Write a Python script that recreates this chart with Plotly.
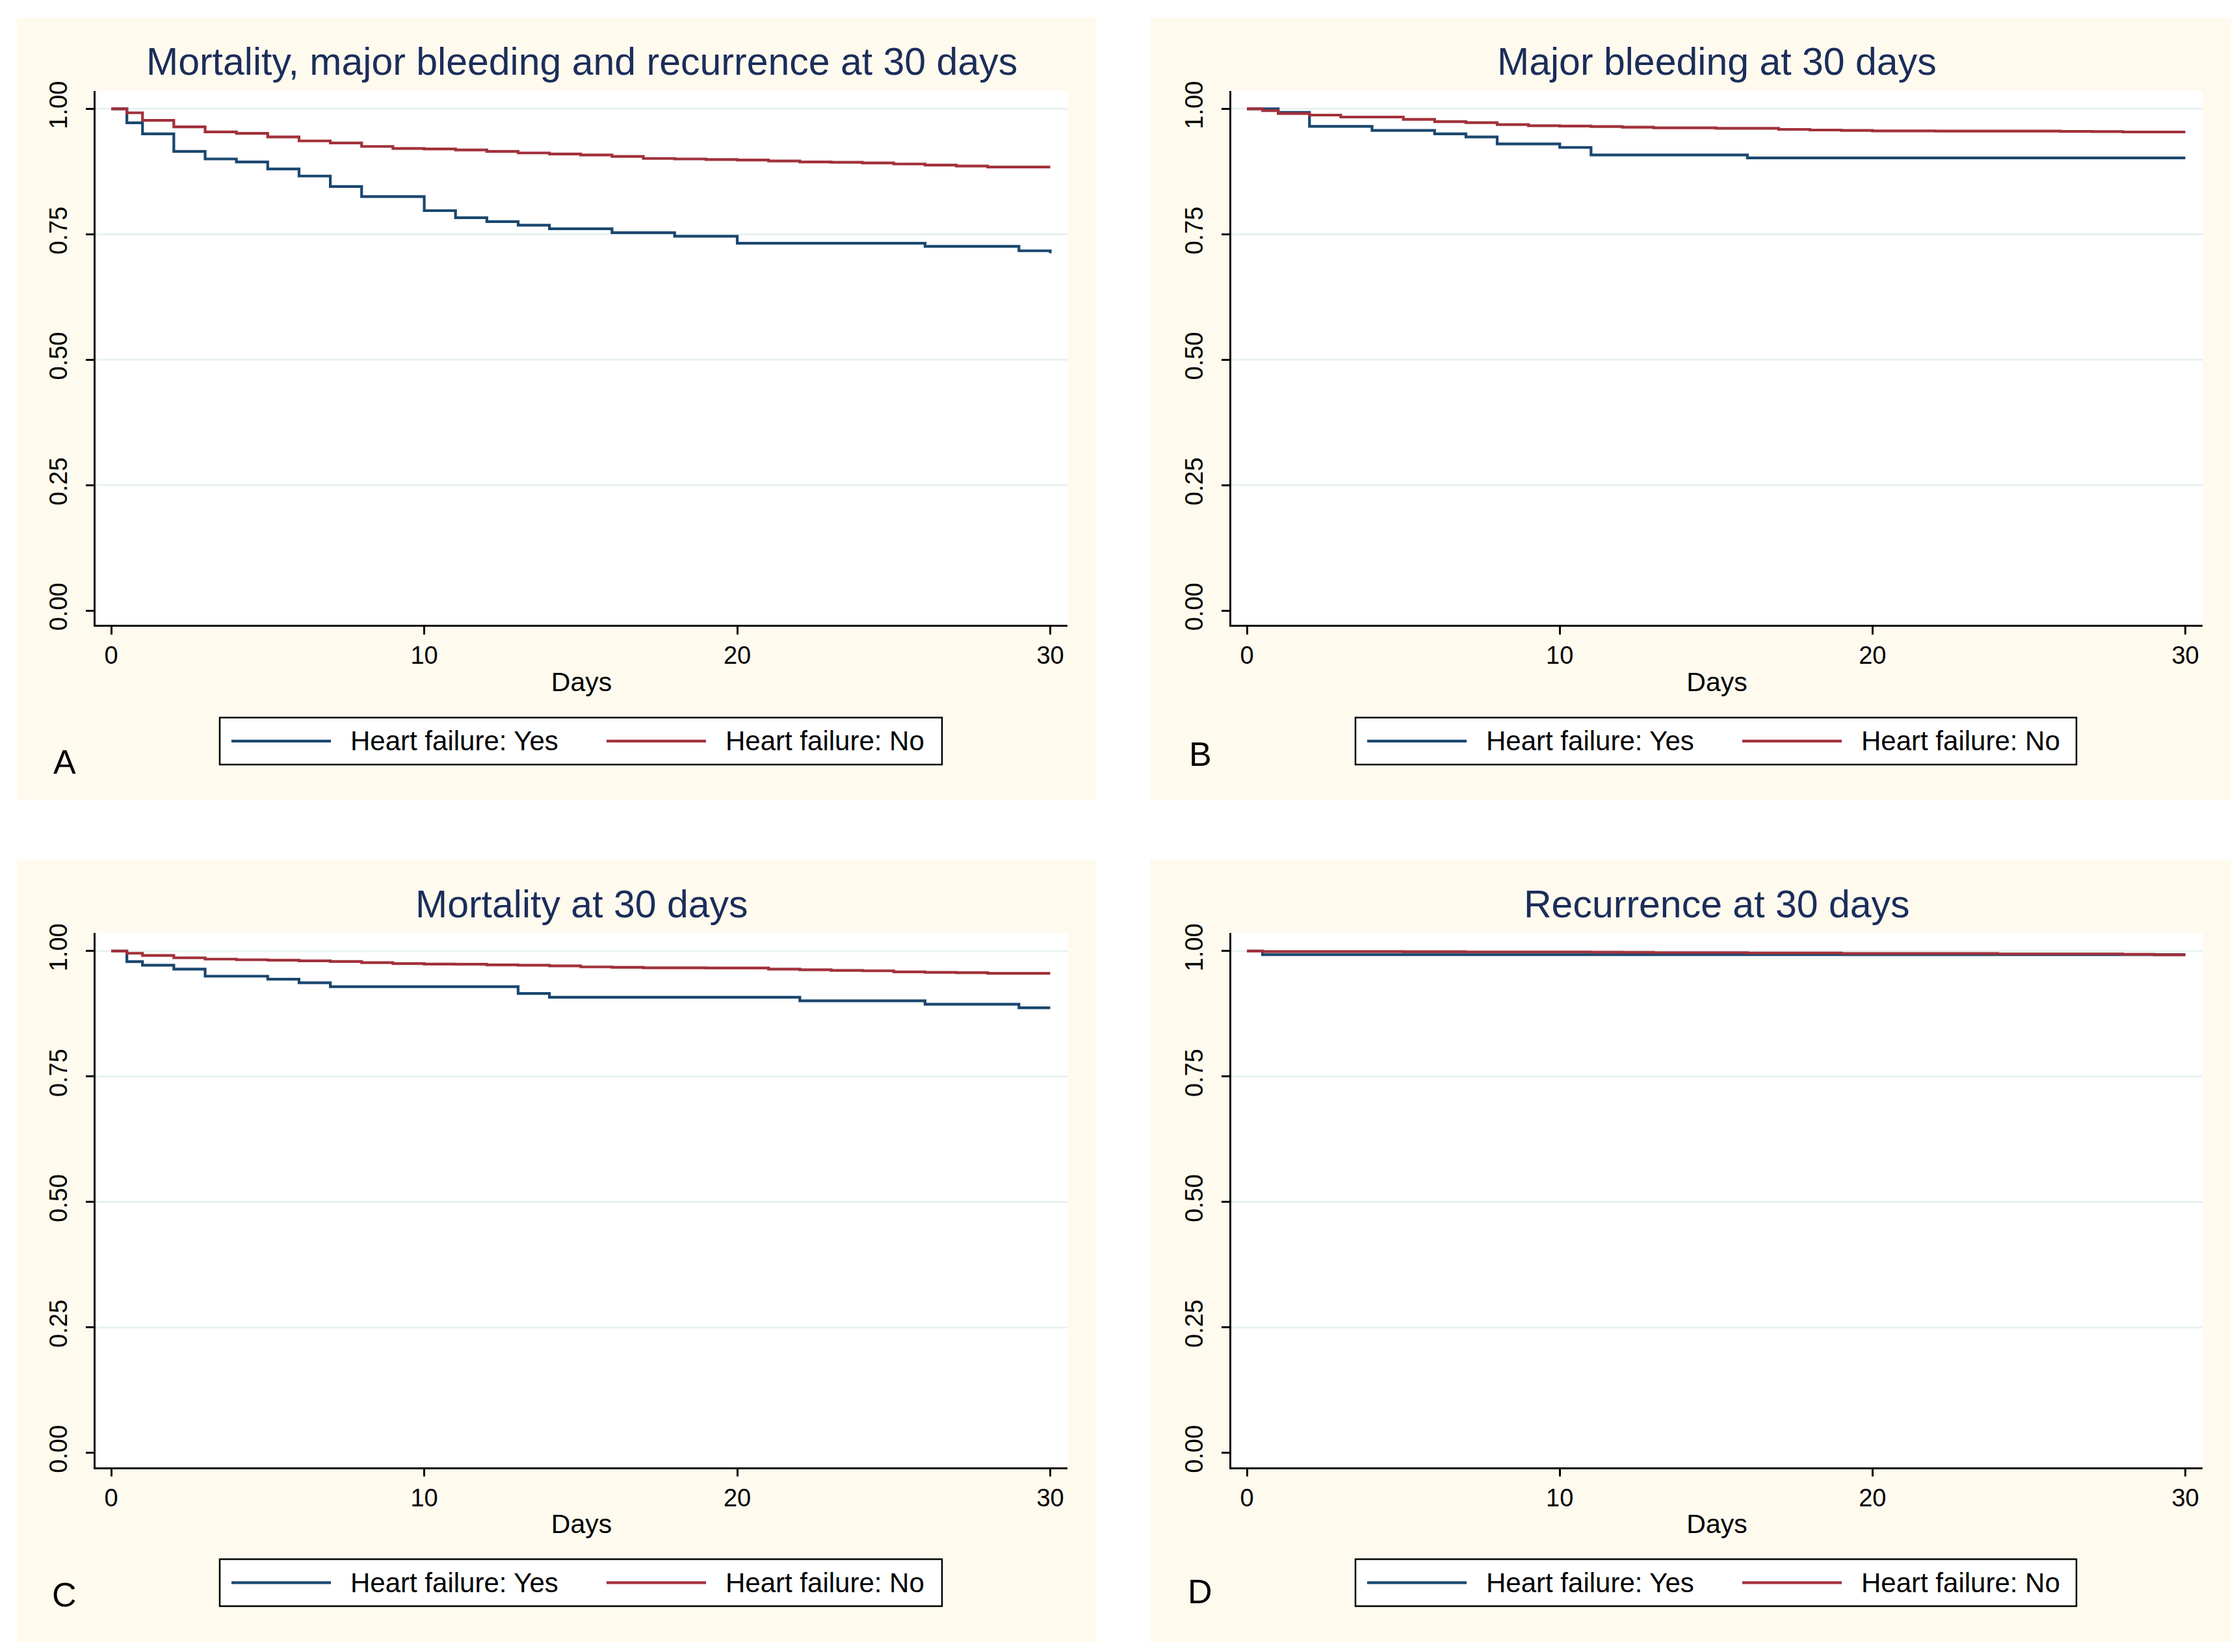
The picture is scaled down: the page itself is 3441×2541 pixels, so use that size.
import plotly.graph_objects as go

# ---------------- data ----------------
panel_titles = [
    "Mortality, major bleeding and recurrence at 30 days",
    "Major bleeding at 30 days",
    "Mortality at 30 days",
    "Recurrence at 30 days",
]
panel_letters = ["A", "B", "C", "D"]
series_names = ["Heart failure: Yes", "Heart failure: No"]
x_ticks = [0, 10, 20, 30]
y_ticks = [0.0, 0.25, 0.5, 0.75, 1.0]
y_tick_labels = ["0.00", "0.25", "0.50", "0.75", "1.00"]
grid_values = [0.25, 0.5, 0.75, 1.0]
x_title = "Days"

# Panel A: mortality, major bleeding and recurrence
a_yes_t = [0, 0.5, 1, 2, 3, 4, 5, 6, 7, 8, 10, 11, 12, 13, 14, 16, 18, 20, 26, 29, 30]
a_yes_s = [1.000, 0.972, 0.950, 0.915, 0.900, 0.894, 0.880, 0.866, 0.845, 0.825,
           0.797, 0.783, 0.775, 0.768, 0.761, 0.753, 0.746, 0.732, 0.726, 0.717, 0.712]
a_no_t = [0, 0.5, 1, 2, 3, 4, 5, 6, 7, 8, 9, 10, 11, 12, 13, 14, 15, 16, 17, 18,
          19, 20, 21, 22, 23, 24, 25, 26, 27, 28, 30]
a_no_s = [1.000, 0.992, 0.977, 0.964, 0.954, 0.951, 0.944, 0.936, 0.932, 0.925,
          0.921, 0.920, 0.918, 0.915, 0.912, 0.910, 0.908, 0.905, 0.901, 0.900,
          0.899, 0.898, 0.896, 0.894, 0.8935, 0.892, 0.890, 0.888, 0.886, 0.884, 0.884]

# Panel B: major bleeding
b_yes_t = [0, 1, 2, 4, 6, 7, 8, 10, 11, 16, 30]
b_yes_s = [1.000, 0.993, 0.965, 0.957, 0.950, 0.944, 0.930, 0.923, 0.908, 0.902, 0.902]
b_no_t = [0, 0.5, 1, 2, 3, 5, 6, 7, 8, 9, 10, 11, 12, 13, 15, 17, 18, 19, 20, 22,
          26, 27, 28, 30]
b_no_s = [1.000, 0.9965, 0.9905, 0.9875, 0.9836, 0.979, 0.9745, 0.9724, 0.9685,
          0.9663, 0.9655, 0.9646, 0.9633, 0.962, 0.961, 0.959, 0.9577, 0.957,
          0.956, 0.9555, 0.955, 0.9547, 0.9538, 0.9538]

# Panel C: mortality
c_yes_t = [0, 0.5, 1, 2, 3, 5, 6, 7, 13, 14, 22, 26, 29, 30]
c_yes_s = [1.000, 0.979, 0.972, 0.964, 0.950, 0.944, 0.937, 0.929, 0.9155, 0.908,
           0.901, 0.894, 0.887, 0.887]
c_no_t = [0, 0.5, 1, 2, 3, 4, 5, 6, 7, 8, 9, 10, 11, 12, 13, 14, 15, 16, 17, 19,
          21, 22, 23, 24, 25, 26, 27, 28, 30]
c_no_s = [1.000, 0.9957, 0.9914, 0.9866, 0.984, 0.9827, 0.9819, 0.9806, 0.9793,
          0.9771, 0.975, 0.9741, 0.9737, 0.9724, 0.972, 0.9707, 0.9685, 0.9676,
          0.9668, 0.9664, 0.9642, 0.9629, 0.9616, 0.9607, 0.9586, 0.9577, 0.9569,
          0.9556, 0.9556]

# Panel D: recurrence
d_yes_t = [0, 0.5, 30]
d_yes_s = [1.000, 0.993, 0.993]
d_no_t = [0, 0.5, 5, 7, 11, 12, 13, 16, 19, 24, 28, 29, 30]
d_no_s = [1.000, 0.9991, 0.9987, 0.9983, 0.9978, 0.9974, 0.997, 0.9961, 0.9953,
          0.9944, 0.9935, 0.9927, 0.9927]

panel_series = [
    ((a_yes_t, a_yes_s), (a_no_t, a_no_s)),
    ((b_yes_t, b_yes_s), (b_no_t, b_no_s)),
    ((c_yes_t, c_yes_s), (c_no_t, c_no_s)),
    ((d_yes_t, d_yes_s), (d_no_t, d_no_s)),
]

# ---------------- styling / layout ----------------
PAGE_W, PAGE_H = 3441, 2541
BODY_MARGIN = 8                      # default page margin around the figure div
W, H = PAGE_W - 2 * BODY_MARGIN, PAGE_H - 2 * BODY_MARGIN
FONT = "Liberation Sans, Arial, Helvetica, sans-serif"
COL_YES = "#1A476F"
COL_NO = "#A1313B"
CREAM = "#FEFAEE"
GRID = "#E8F1F3"
TITLE_COL = "#1B2D5A"


def px_x(v):
    return (v - BODY_MARGIN) / W


def px_y(v):
    return 1 - (v - BODY_MARGIN) / H


# panel geometry in page pixels
cols = [
    dict(cream=(26, 1686), plot=(147, 1642), legend=(338, 1449)),
    dict(cream=(1769, 3432), plot=(1894, 3388), legend=(2085, 3194)),
]
rows = [
    dict(cream=(12, 1227), plot=(126, 955), legend=(1099, 1172)),
    dict(cream=(1320, 2535), plot=(1434, 2263), legend=(2406, 2479)),
]
title_gap = 45
letter_pos = [(99, 1168), (1846, 1156), (99, 2461), (1846, 2456)]

fig = go.Figure()
shapes = []
annotations = []
layout_axes = {}

for i in range(4):
    c = cols[i % 2]
    r = rows[i // 2]
    sfx = "" if i == 0 else str(i + 1)
    xa, ya = "x" + sfx, "y" + sfx

    # cream panel background and white plot region
    shapes.append(dict(type="rect", xref="paper", yref="paper",
                       x0=px_x(c["cream"][0]), x1=px_x(c["cream"][1]),
                       y0=px_y(r["cream"][1]), y1=px_y(r["cream"][0]),
                       fillcolor=CREAM, line=dict(width=0), layer="below"))
    shapes.append(dict(type="rect", xref="paper", yref="paper",
                       x0=px_x(c["plot"][0]), x1=px_x(c["plot"][1]),
                       y0=px_y(r["plot"][1]), y1=px_y(r["plot"][0]),
                       fillcolor="white", line=dict(width=0), layer="below"))

    # gridlines
    for g in grid_values:
        shapes.append(dict(type="line", xref=xa + " domain", yref=ya,
                           x0=0, x1=1, y0=g, y1=g,
                           line=dict(color=GRID, width=3), layer="below"))

    # curves
    for (t, s), name, col in zip(panel_series[i], series_names, [COL_YES, COL_NO]):
        fig.add_trace(go.Scatter(x=t, y=s, mode="lines", name=name,
                                 line=dict(color=col, width=4.2, shape="hv"),
                                 xaxis=xa, yaxis=ya, showlegend=False))

    layout_axes["xaxis" + sfx] = dict(
        domain=[px_x(c["plot"][0]), px_x(c["plot"][1])],
        anchor=ya, range=[-0.5, 30.55], tickmode="array", tickvals=x_ticks,
        ticks="outside", ticklen=12, tickwidth=2.5, tickcolor="black",
        showline=True, linecolor="black", linewidth=2.8, mirror=False,
        showgrid=False, zeroline=False, fixedrange=True,
        tickfont=dict(family=FONT, size=38, color="black"),
        ticklabelstandoff=0,
        title=dict(text=x_title, font=dict(family=FONT, size=41, color="black"),
                   standoff=6),
    )
    layout_axes["yaxis" + sfx] = dict(
        domain=[px_y(r["plot"][1]), px_y(r["plot"][0])],
        anchor=xa, range=[-0.0285, 1.0356], tickmode="array", tickvals=y_ticks,
        ticktext=y_tick_labels, tickangle=-90,
        ticks="outside", ticklen=12, tickwidth=2.5, tickcolor="black",
        showline=True, linecolor="black", linewidth=2.8,
        showgrid=False, zeroline=False, fixedrange=True,
        tickfont=dict(family=FONT, size=38, color="black"),
        ticklabelstandoff=14,
    )

    # panel title
    annotations.append(dict(text=panel_titles[i], xref="paper", yref="paper",
                            x=px_x((c["plot"][0] + c["plot"][1]) / 2),
                            y=px_y(r["plot"][0] - title_gap), xanchor="center",
                            yanchor="middle", showarrow=False,
                            font=dict(family=FONT, size=59, color=TITLE_COL)))
    # panel letter
    lx, ly = letter_pos[i]
    annotations.append(dict(text=panel_letters[i], xref="paper", yref="paper",
                            x=px_x(lx), y=px_y(ly), xanchor="center",
                            yanchor="middle", showarrow=False,
                            font=dict(family=FONT, size=52, color="black")))

    # legend box (drawn like the Stata legend)
    L0, L1 = c["legend"]
    T0, T1 = r["legend"]
    shapes.append(dict(type="rect", xref="paper", yref="paper",
                       x0=px_x(L0), x1=px_x(L1), y0=px_y(T1), y1=px_y(T0),
                       fillcolor="white", line=dict(color="black", width=2.5)))
    ym = (T0 + T1) / 2
    for k, (name, col) in enumerate(zip(series_names, [COL_YES, COL_NO])):
        off = 0 if k == 0 else 577
        shapes.append(dict(type="line", xref="paper", yref="paper",
                           x0=px_x(L0 + 18 + off), x1=px_x(L0 + 171 + off),
                           y0=px_y(ym), y1=px_y(ym),
                           line=dict(color=col, width=4.2)))
        annotations.append(dict(text=name, xref="paper", yref="paper",
                                x=px_x(L0 + 199 + off), y=px_y(ym),
                                xanchor="left", yanchor="middle", showarrow=False,
                                font=dict(family=FONT, size=42, color="black")))

fig.update_layout(
    width=W, height=H, margin=dict(l=0, r=0, t=0, b=0),
    paper_bgcolor="white", plot_bgcolor="white",
    showlegend=False, shapes=shapes, annotations=annotations,
    font=dict(family=FONT, color="black"),
    **layout_axes,
)

fig.write_html("out.html")
